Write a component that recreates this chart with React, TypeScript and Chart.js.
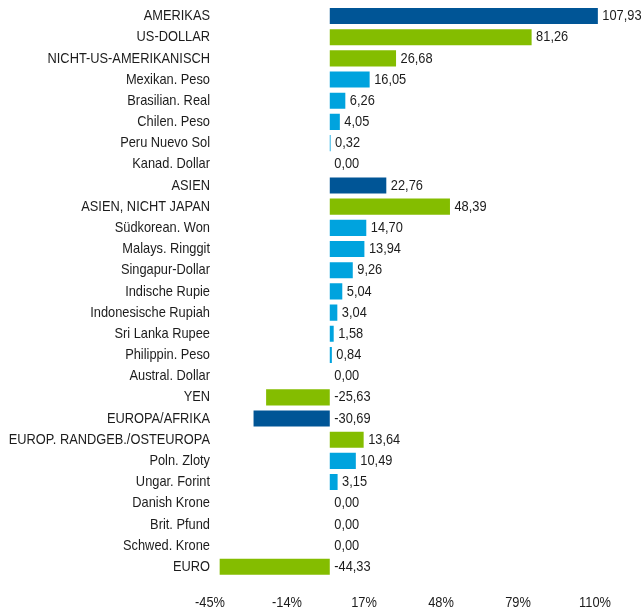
import React, { useEffect, useRef } from "react";
import { Chart, registerables } from "chart.js";

Chart.register(...registerables);

const categories = [
  "AMERIKAS",
  "US-DOLLAR",
  "NICHT-US-AMERIKANISCH",
  "Mexikan. Peso",
  "Brasilian. Real",
  "Chilen. Peso",
  "Peru Nuevo Sol",
  "Kanad. Dollar",
  "ASIEN",
  "ASIEN, NICHT JAPAN",
  "Südkorean. Won",
  "Malays. Ringgit",
  "Singapur-Dollar",
  "Indische Rupie",
  "Indonesische Rupiah",
  "Sri Lanka Rupee",
  "Philippin. Peso",
  "Austral. Dollar",
  "YEN",
  "EUROPA/AFRIKA",
  "EUROP. RANDGEB./OSTEUROPA",
  "Poln. Zloty",
  "Ungar. Forint",
  "Danish Krone",
  "Brit. Pfund",
  "Schwed. Krone",
  "EURO",
];

const values = [
  107.93, 81.26, 26.68, 16.05, 6.26, 4.05, 0.32, 0.0, 22.76, 48.39, 14.7,
  13.94, 9.26, 5.04, 3.04, 1.58, 0.84, 0.0, -25.63, -30.69, 13.64, 10.49,
  3.15, 0.0, 0.0, 0.0, -44.33,
];

// r = region, g = group, c = currency
const kinds = [
  "r", "g", "g", "c", "c", "c", "c", "c",
  "r", "g", "c", "c", "c", "c", "c", "c", "c", "c",
  "g", "r", "g", "c", "c", "c", "c", "c", "g",
];

const tickValues = [-45, -14, 17, 48, 79, 110];

const COLORS: Record<string, string> = {
  r: "#005596",
  g: "#84BD00",
  c: "#00A3DE",
};

const FONT = "15px 'Liberation Sans', Arial, sans-serif";
const NARROW = 0.855;
const TEXT_COLOR = "#1c1c1c";

const fmt = (v: number) => v.toFixed(2).replace(".", ",");

function narrowText(ctx: CanvasRenderingContext2D, text: string, x: number, y: number, align: CanvasTextAlign) {
  ctx.save();
  ctx.translate(x, y);
  ctx.scale(NARROW, 1);
  ctx.textAlign = align;
  ctx.fillText(text, 0, 0);
  ctx.restore();
}

const textLabels = {
  id: "textLabels",
  afterDraw(chart: any) {
    const ctx = chart.ctx as CanvasRenderingContext2D;
    const meta = chart.getDatasetMeta(0);
    const xScale = chart.scales.x;
    const yScale = chart.scales.y;
    ctx.save();
    ctx.font = FONT;
    ctx.fillStyle = TEXT_COLOR;
    ctx.textBaseline = "middle";
    // category labels
    categories.forEach((c, i) => {
      const y = yScale.getPixelForValue(i);
      narrowText(ctx, c, yScale.right - 8, y, "right");
    });
    // value labels
    meta.data.forEach((bar: any, i: number) => {
      const x = Math.max(bar.x, bar.base) + 4.5;
      narrowText(ctx, fmt(values[i]), x, bar.y, "left");
    });
    // x tick labels
    tickValues.forEach((v) => {
      const x = xScale.getPixelForValue(v) - 8;
      narrowText(ctx, `${v}%`, x, xScale.top + 25, "center");
    });
    ctx.restore();
  },
};

export default function App() {
  const ref = useRef<HTMLCanvasElement | null>(null);

  useEffect(() => {
    if (!ref.current) return;
    const chart = new Chart(ref.current, {
      type: "bar",
      data: {
        labels: categories,
        datasets: [
          {
            data: values,
            backgroundColor: kinds.map((k) => COLORS[k]),
            borderWidth: 0,
            barPercentage: 0.76,
            categoryPercentage: 1,
          },
        ],
      },
      options: {
        indexAxis: "y",
        animation: false,
        responsive: false,
        maintainAspectRatio: false,
        layout: { padding: { top: 5.4, right: 38, bottom: 0, left: 0 } },
        plugins: {
          legend: { display: false },
          tooltip: { enabled: false },
        },
        scales: {
          x: {
            type: "linear",
            min: -45,
            max: 110,
            grid: { display: false, drawTicks: false },
            border: { display: false },
            afterBuildTicks: (scale: any) => {
              scale.ticks = tickValues.map((v) => ({ value: v }));
            },
            afterFit: (scale: any) => {
              scale.height = 30.6;
              scale.paddingLeft = 0;
              scale.paddingRight = 0;
            },
            ticks: { display: false },
          },
          y: {
            grid: { display: false, drawTicks: false },
            border: { display: false },
            afterFit: (scale: any) => {
              scale.width = 218;
              scale.paddingTop = 0;
              scale.paddingBottom = 0;
            },
            ticks: { display: false, autoSkip: false },
          },
        },
      },
      plugins: [textLabels],
    });
    return () => chart.destroy();
  }, []);

  return (
    <div style={{ position: "fixed", left: 0, top: 0, width: 641, height: 608, background: "#fff" }}>
      <canvas ref={ref} width={641} height={608} style={{ display: "block" }} />
    </div>
  );
}
